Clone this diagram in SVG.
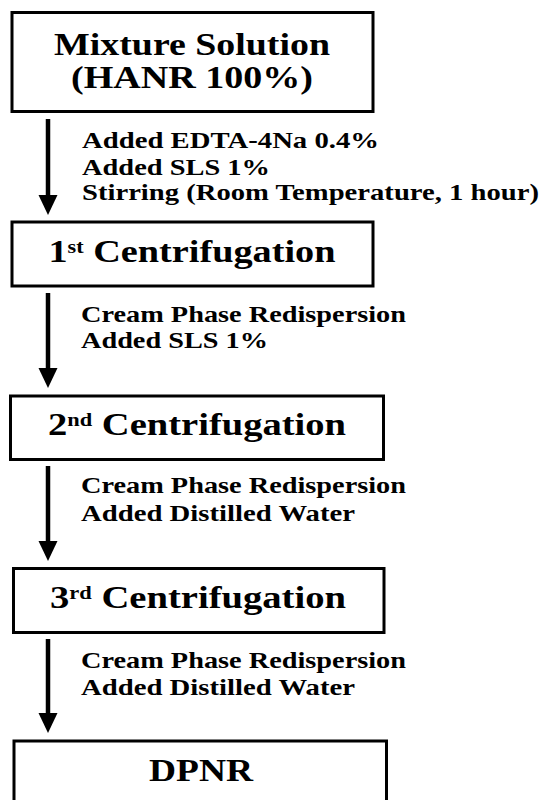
<svg xmlns="http://www.w3.org/2000/svg" width="544" height="800" viewBox="0 0 544 800">
<defs>
<style>
.box{fill:#fff;stroke:#000;stroke-width:3}
.title{font-family:"Liberation Serif","Times New Roman",serif;font-weight:bold;font-size:31px;fill:#000}
.ann{font-family:"Liberation Serif","Times New Roman",serif;font-weight:bold;font-size:23px;fill:#000}
.shaft{stroke:#000;stroke-width:4.5;fill:none}
.head{fill:#000}
</style>
</defs>
<rect width="544" height="800" fill="#fff"/>
<g id="connectors">
<g id="arrow1"><line class="shaft" x1="48" y1="119" x2="48" y2="200"/><polygon class="head" points="38.5,195 57.5,195 48,215"/></g>
<g id="arrow2"><line class="shaft" x1="48" y1="293" x2="48" y2="373"/><polygon class="head" points="38.5,368 57.5,368 48,388"/></g>
<g id="arrow3"><line class="shaft" x1="48" y1="466" x2="48" y2="546"/><polygon class="head" points="38.5,541 57.5,541 48,561"/></g>
<g id="arrow4"><line class="shaft" x1="48" y1="639" x2="48" y2="718"/><polygon class="head" points="38.5,713 57.5,713 48,733"/></g>
<text class="ann" x="82" y="148" textLength="297" lengthAdjust="spacingAndGlyphs">Added EDTA-4Na 0.4%</text>
<text class="ann" x="82" y="175" textLength="188" lengthAdjust="spacingAndGlyphs">Added SLS 1%</text>
<text class="ann" x="82" y="200" textLength="457" lengthAdjust="spacingAndGlyphs">Stirring (Room Temperature, 1 hour)</text>
<text class="ann" x="81" y="322" textLength="325" lengthAdjust="spacingAndGlyphs">Cream Phase Redispersion</text>
<text class="ann" x="81" y="348" textLength="187" lengthAdjust="spacingAndGlyphs">Added SLS 1%</text>
<text class="ann" x="81" y="493" textLength="325" lengthAdjust="spacingAndGlyphs">Cream Phase Redispersion</text>
<text class="ann" x="81" y="521" textLength="274" lengthAdjust="spacingAndGlyphs">Added Distilled Water</text>
<text class="ann" x="81" y="668" textLength="325" lengthAdjust="spacingAndGlyphs">Cream Phase Redispersion</text>
<text class="ann" x="81" y="695" textLength="274" lengthAdjust="spacingAndGlyphs">Added Distilled Water</text>
</g>
<g id="node1">
<rect class="box" x="12" y="12.5" width="361" height="99"/>
<text class="title" x="54" y="55" textLength="276" lengthAdjust="spacingAndGlyphs">Mixture Solution</text>
<text class="title" x="71" y="88" textLength="242" lengthAdjust="spacingAndGlyphs">(HANR 100%)</text>
</g>
<g id="node2">
<rect class="box" x="12" y="222" width="361" height="64"/>
<text class="title" x="48.5" y="262" textLength="287" lengthAdjust="spacingAndGlyphs" font-size="30">1<tspan font-size="18" dy="-9">st</tspan><tspan dy="9"> Centrifugation</tspan></text>
</g>
<g id="node3">
<rect class="box" x="10.5" y="396" width="373" height="63.5"/>
<text class="title" x="48" y="435" textLength="298" lengthAdjust="spacingAndGlyphs" font-size="30">2<tspan font-size="18" dy="-9">nd</tspan><tspan dy="9"> Centrifugation</tspan></text>
</g>
<g id="node4">
<rect class="box" x="13.5" y="568.5" width="370.5" height="64"/>
<text class="title" x="50" y="608" textLength="296" lengthAdjust="spacingAndGlyphs" font-size="30">3<tspan font-size="18" dy="-9">rd</tspan><tspan dy="9"> Centrifugation</tspan></text>
</g>
<g id="node5">
<rect class="box" x="14" y="741" width="372.5" height="80"/>
<text class="title" x="149" y="781" textLength="104" lengthAdjust="spacingAndGlyphs" font-size="30">DPNR</text>
</g>
</svg>
